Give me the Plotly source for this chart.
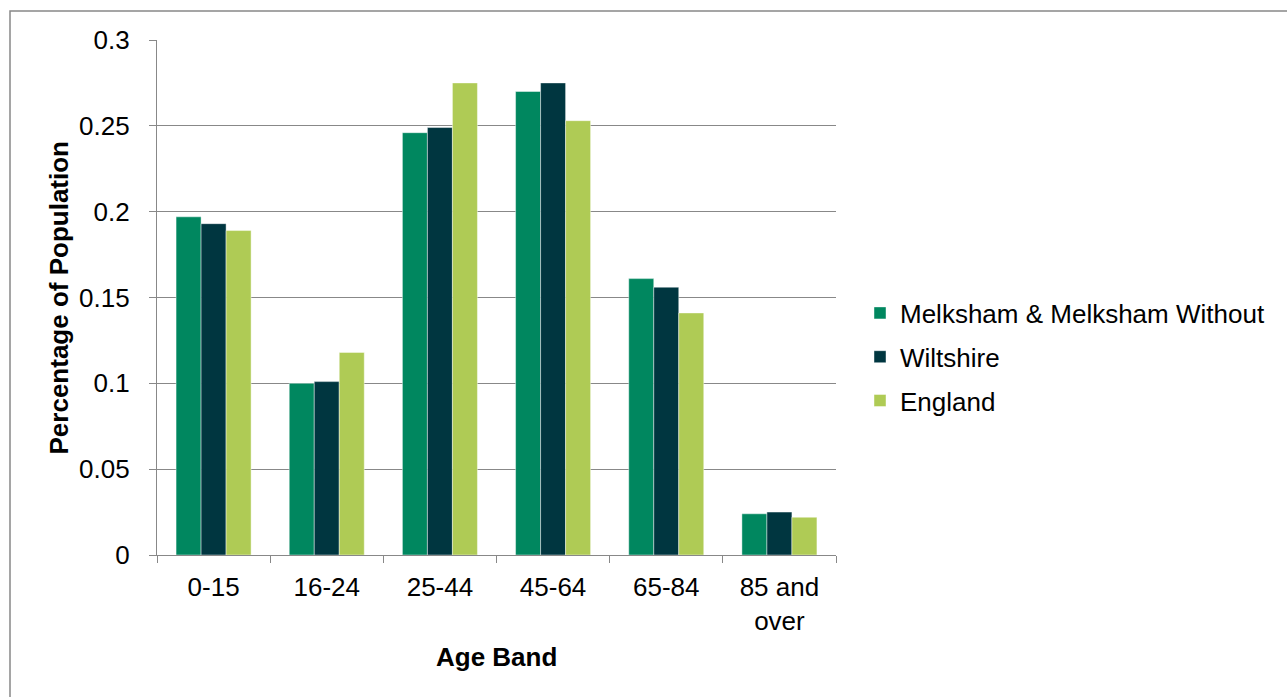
import plotly.graph_objects as go

categories = ["0-15", "16-24", "25-44", "45-64", "65-84", "85 and<br>over"]
melksham = [0.197, 0.100, 0.246, 0.270, 0.161, 0.024]
wiltshire = [0.193, 0.101, 0.249, 0.275, 0.156, 0.025]
england = [0.189, 0.118, 0.275, 0.253, 0.141, 0.022]
series_names = ["Melksham & Melksham Without", "Wiltshire", "England"]
series_colors = ["#00875F", "#003640", "#AFCB55"]
y_tickvals = [0, 0.05, 0.1, 0.15, 0.2, 0.25, 0.3]
y_ticktext = ["0", "0.05", "0.1", "0.15", "0.2", "0.25", "0.3"]

FONT = "Liberation Sans, Arial, sans-serif"
GRID = "#888888"

fig = go.Figure()
for i, (name, vals, col) in enumerate(zip(series_names, [melksham, wiltshire, england], series_colors)):
    fig.add_trace(go.Bar(
        x=categories, y=vals, name=name, legendgroup=f"g{i}",
        marker=dict(color=col, line=dict(color="rgba(255,255,255,0.55)", width=0.8)),
    ))

W, H = 1287, 697
L, R, T, B = 157, 836, 40, 555

fig.update_layout(
    width=W, height=H,
    margin=dict(l=L, r=W - R, t=T, b=H - B, pad=0),
    paper_bgcolor="white", plot_bgcolor="white",
    barmode="group", bargap=0.337, bargroupgap=0,
    font=dict(family=FONT, size=26, color="black"),
    showlegend=True,
    legend=dict(
        x=(860 - L) / (R - L), xanchor="left",
        y=(B - 357) / (B - T), yanchor="middle",
        font=dict(size=26, color="black"),
        traceorder="grouped", tracegroupgap=7,
        itemwidth=30, bgcolor="rgba(0,0,0,0)",
    ),
    xaxis=dict(
        type="category", showline=True, linecolor=GRID, linewidth=1.3,
        ticks="outside", tickson="boundaries", ticklen=7, tickcolor=GRID, tickwidth=1.3,
        showgrid=False, tickfont=dict(size=26), ticklabelstandoff=9,
        fixedrange=True,
    ),
    yaxis=dict(
        range=[0, 0.3], tickvals=y_tickvals, ticktext=y_ticktext,
        showline=True, linecolor=GRID, linewidth=1.3,
        ticks="outside", ticklen=7, tickcolor=GRID, tickwidth=1.3,
        showgrid=True, gridcolor=GRID, gridwidth=1.3, zeroline=False,
        tickfont=dict(size=26), ticklabelstandoff=14,
        fixedrange=True,
    ),
    annotations=[
        dict(text="<b>Age Band</b>", xref="paper", yref="paper",
             x=0.5, y=(B - 657) / (B - T), xanchor="center", yanchor="middle",
             showarrow=False, font=dict(size=26, color="black")),
        dict(text="<b>Percentage of Population</b>", xref="paper", yref="paper",
             x=(58 - L) / (R - L), y=0.5, xanchor="center", yanchor="middle",
             textangle=-90, showarrow=False, font=dict(size=26, color="black")),
    ],
    shapes=[
        dict(type="rect", xref="paper", yref="paper",
             x0=(10 - L) / (R - L), x1=(1300 - L) / (R - L),
             y0=(B - 11) / (B - T), y1=(B - 710) / (B - T),
             line=dict(color=GRID, width=1.5), fillcolor="rgba(0,0,0,0)", layer="below"),
    ],
)

fig.write_html("out.html")
